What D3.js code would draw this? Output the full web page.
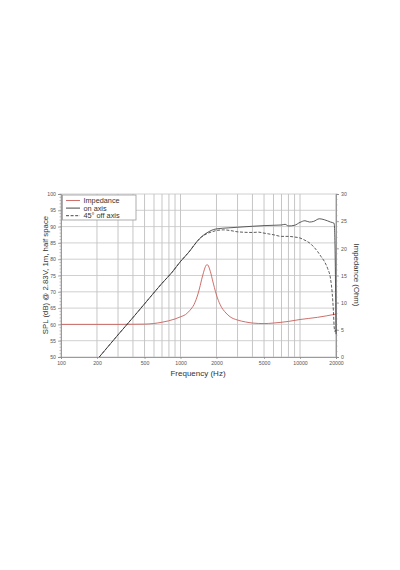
<!DOCTYPE html>
<html><head><meta charset="utf-8">
<script src="https://cdn.jsdelivr.net/npm/d3@7/dist/d3.min.js"></script>
<style>body{margin:0;background:#fff}svg{display:block}</style>
</head><body><svg id="c" width="400" height="570"></svg>
<script>
// ---- data ----
const xTickLabels = [100, 200, 500, 1000, 2000, 5000, 10000, 20000];
const yTicksSPL = [50, 55, 60, 65, 70, 75, 80, 85, 90, 95, 100];
const yTicksImp = [0, 5, 10, 15, 20, 25, 30];

const onFreq = [209, 300, 400, 500, 700, 850, 1000, 1100, 1200, 1300, 1400, 1500, 1600, 1700, 1800, 2000, 2500, 3000, 4000, 5000, 6000, 7000, 7500, 8000, 9000, 10000, 11000, 12000, 13000, 14500, 16000, 18000, 19300, 19700, 20000];
const onSPL  = [50, 56.8, 62.1, 66.3, 72.6, 76.0, 79.3, 81.0, 82.6, 84.3, 85.8, 86.9, 87.7, 88.3, 88.8, 89.3, 89.6, 89.8, 90.1, 90.3, 90.4, 90.5, 90.7, 90.2, 90.4, 91.3, 91.8, 91.4, 91.6, 92.4, 92.1, 91.4, 91.0, 80, 57];

const offFreq = [209, 300, 400, 500, 700, 850, 1000, 1100, 1200, 1300, 1400, 1500, 1600, 1700, 1800, 2000, 2300, 2700, 3000, 4000, 4500, 5000, 6000, 7000, 8000, 9000, 10000, 11000, 12000, 13000, 14000, 15000, 16000, 17000, 18000, 18600, 19000, 19300, 19600, 20000];
const offSPL  = [50, 56.8, 62.1, 66.3, 72.6, 76.0, 79.3, 81.0, 82.6, 84.3, 85.7, 86.8, 87.5, 88.0, 88.3, 88.8, 89.0, 88.7, 88.4, 88.2, 88.3, 88.0, 87.5, 87.0, 87.0, 86.8, 86.5, 85.8, 85.0, 83.8, 82.4, 80.8, 79.3, 77.2, 74.0, 69.5, 64.4, 59.3, 57.8, 58.5];

const impFreq = [100, 200, 300, 500, 700, 900, 1000, 1100, 1200, 1300, 1400, 1460, 1500, 1560, 1600, 1666, 1710, 1750, 1800, 1850, 1920, 2000, 2150, 2400, 2600, 3000, 3500, 4000, 5000, 6000, 8000, 10000, 14000, 20000];
const impOhm  = [6.0, 6.0, 6.0, 6.05, 6.4, 7.0, 7.4, 7.8, 8.6, 9.7, 11.6, 13.1, 14.2, 15.6, 16.4, 17.0, 16.8, 16.2, 15.3, 14.2, 12.8, 11.4, 9.6, 8.1, 7.4, 6.8, 6.45, 6.25, 6.15, 6.25, 6.55, 6.9, 7.3, 7.9];

const legendLabels = ["Impedance", "on axis", "45° off axis"];

// ---- layout ----
const L = 61, R = 336, T = 194, B = 357;
const svg = d3.select("#c");
const x = d3.scaleLog().domain([100, 20000]).range([L, R]);
const y = d3.scaleLinear().domain([50, 100]).range([B, T]);
const y2 = d3.scaleLinear().domain([0, 30]).range([B, T]);
const font = "Liberation Sans, Arial, Helvetica, sans-serif";

// grid
const gridX = [];
[100, 1000, 10000].forEach(d => { for (let k = 1; k <= 9; k++) { const v = d * k; if (v <= 20000) gridX.push(v); } });
gridX.push(20000);
svg.append("g").selectAll("line").data(gridX).join("line")
  .attr("x1", d => x(d)).attr("x2", d => x(d)).attr("y1", T).attr("y2", B)
  .attr("stroke", "#b8b8b8").attr("stroke-width", 0.8);
svg.append("g").selectAll("line").data(yTicksSPL).join("line")
  .attr("x1", L).attr("x2", R).attr("y1", d => y(d)).attr("y2", d => y(d))
  .attr("stroke", "#c4c4c4").attr("stroke-width", 0.8);

// axes
const axL = svg.append("g").attr("transform", `translate(${L},0)`)
  .call(d3.axisLeft(y).tickValues(yTicksSPL).tickSize(3).tickPadding(2));
const axR = svg.append("g").attr("transform", `translate(${R},0)`)
  .call(d3.axisRight(y2).tickValues(yTicksImp).tickSize(3).tickPadding(2));
const axB = svg.append("g").attr("transform", `translate(0,${B})`)
  .call(d3.axisBottom(x).tickValues(xTickLabels).tickFormat(d3.format("d")).tickSize(2).tickPadding(2));
[axL, axR, axB].forEach(a => {
  a.selectAll("path.domain").attr("stroke", "#888").attr("stroke-width", 0.8);
  a.selectAll(".tick line").attr("stroke", "#888").attr("stroke-width", 0.7);
  a.selectAll("text").attr("font-family", font).attr("font-size", 5.2).attr("fill", "#555");
});
// minor ticks
const minorSPL = d3.range(50, 101, 1);
svg.append("g").selectAll("line").data(minorSPL).join("line")
  .attr("x1", L - 1.5).attr("x2", L).attr("y1", d => y(d)).attr("y2", d => y(d))
  .attr("stroke", "#999").attr("stroke-width", 0.6);
const minorImp = d3.range(0, 31, 1);
svg.append("g").selectAll("line").data(minorImp).join("line")
  .attr("x1", R).attr("x2", R + 1.5).attr("y1", d => y2(d)).attr("y2", d => y2(d))
  .attr("stroke", "#999").attr("stroke-width", 0.6);

// curves
const lineSPL = d3.line().x(d => x(d[0])).y(d => y(d[1])).curve(d3.curveMonotoneX);
const lineImp = d3.line().x(d => x(d[0])).y(d => y2(d[1])).curve(d3.curveMonotoneX);
svg.append("clipPath").attr("id", "pc").append("rect")
  .attr("x", L).attr("y", T).attr("width", R - L + 1).attr("height", B - T);
const plot = svg.append("g").attr("clip-path", "url(#pc)");
plot.append("path").datum(impFreq.map((f, i) => [f, impOhm[i]])).attr("d", lineImp)
  .attr("fill", "none").attr("stroke", "#c8605a").attr("stroke-width", 0.9);
plot.append("path").datum(offFreq.map((f, i) => [f, offSPL[i]])).attr("d", lineSPL)
  .attr("fill", "none").attr("stroke", "#333").attr("stroke-width", 0.8).attr("stroke-dasharray", "3,1.6");
plot.append("path").datum(onFreq.map((f, i) => [f, onSPL[i]])).attr("d", lineSPL)
  .attr("fill", "none").attr("stroke", "#333").attr("stroke-width", 0.8);

// legend
const lg = svg.append("g");
lg.append("rect").attr("x", 62.5).attr("y", 195).attr("width", 73.5).attr("height", 25)
  .attr("fill", "#fff").attr("stroke", "#999").attr("stroke-width", 0.8);
const lgStyles = [{c: "#c8605a", d: null}, {c: "#333", d: null}, {c: "#333", d: "3,1.6"}];
legendLabels.forEach((t, i) => {
  const yy = 200.5 + i * 7.6;
  lg.append("line").attr("x1", 66).attr("x2", 80).attr("y1", yy).attr("y2", yy)
    .attr("stroke", lgStyles[i].c).attr("stroke-width", 0.9).attr("stroke-dasharray", lgStyles[i].d);
  lg.append("text").attr("x", 83.5).attr("y", yy + 2.5).text(t)
    .attr("font-family", font).attr("font-size", 7.3).attr("fill", "#333");
});

// titles
svg.append("text").attr("x", 198).attr("y", 376).attr("text-anchor", "middle")
  .attr("font-family", font).attr("font-size", 8).attr("fill", "#333").text("Frequency (Hz)");
svg.append("text").attr("transform", "translate(47.5,275) rotate(-90)").attr("text-anchor", "middle")
  .attr("font-family", font).attr("font-size", 7.8).attr("fill", "#333").text("SPL (dB) @ 2.83V, 1m, half space");
svg.append("text").attr("transform", "translate(353.5,275) rotate(90)").attr("text-anchor", "middle")
  .attr("font-family", font).attr("font-size", 7.8).attr("fill", "#333").text("Impedance (Ohm)");
</script></body></html>
